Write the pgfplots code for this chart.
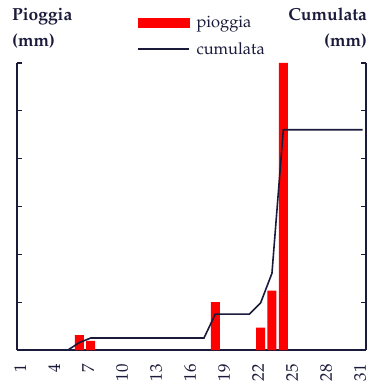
\documentclass[border=0pt]{standalone}
\usepackage[T1]{fontenc}
\usepackage{mathpazo}
\usepackage{pgfplots}
\pgfplotsset{compat=1.18}
\definecolor{navy}{RGB}{26,26,58}

\begin{document}
\begin{tikzpicture}
\pgfplotsset{
  common/.style={
    scale only axis, width=349bp, height=287bp,
    xmin=0.5, xmax=31.3,
    axis line style={navy, line width=1.4pt, -},
    major tick length=5bp,
    tick style={navy, line width=1.2pt},
    yticklabels={},
  }
}
% rain bars, left axis
\begin{axis}[common, name=ax,
    ymin=0, ymax=60, ytick={0,10,...,60},
    axis y line*=left, axis x line*=bottom,
    xtick={1,4,...,31},
    xtick style={draw=none},
    xticklabel={\fontsize{17}{19}\selectfont\pgfmathprintnumber[assume math mode=true]{\tick}},
    xticklabel shift=9bp,
    x tick label style={xshift=-2.5bp, rotate=90, anchor=east, text=navy, inner sep=0pt},
    ybar, bar width=0.8,
]
\addplot[fill=red, draw=none] coordinates {
  (6,3.1)(7,1.9)(18,10)(22,4.7)(23,12.4)(24,60) };
\end{axis}
% cumulative, right axis
\begin{axis}[common,
    ymin=0, ymax=120, ytick={0,20,...,120},
    axis y line*=right, axis x line=none,
    legend style={at={(0.343,1.17)}, anchor=north west, draw=none, fill=none,
      inner sep=0pt, row sep=9bp, font=\fontsize{16.5}{18}\selectfont, text=navy},
    legend cell align=left,
]
\addlegendimage{legend image code/.code={\fill[red] (0bp,-4.5bp) rectangle (51bp,4.5bp); \path (56bp,0bp);}}
\addlegendentry{pioggia}
\addplot[navy, line width=1.6pt,
    legend image code/.code={\draw[navy, line width=1.6pt] (0bp,0bp) -- (51bp,0bp); \path (56bp,0bp);}] coordinates {
  (1,0)(2,0)(3,0)(4,0)(5,0)(6,3.1)(7,5.0)(8,5.0)(9,5.0)(10,5.0)(11,5.0)(12,5.0)
  (13,5.0)(14,5.0)(15,5.0)(16,5.0)(17,5.0)(18,15.0)(19,15.0)(20,15.0)(21,15.0)
  (22,19.7)(23,32.1)(24,92.1)(25,92.1)(26,92.1)(27,92.1)(28,92.1)(29,92.1)
  (30,92.1)(31,92.1) };
\addlegendentry{cumulata}
\end{axis}

\begin{scope}[every node/.style={text=navy, inner sep=0pt, font=\fontsize{17.5}{20}\selectfont\bfseries}]
\node[anchor=base west] at ([xshift=-5bp,yshift=42bp]ax.north west) {Pioggia};
\node[anchor=base west] at ([xshift=-5bp,yshift=16bp]ax.north west) {(mm)};
\node[anchor=base east] at ([xshift=1bp,yshift=42bp]ax.north east) {Cumulata};
\node[anchor=base east] at ([xshift=1bp,yshift=16bp]ax.north east) {(mm)};
\end{scope}

\pgfresetboundingbox
\path[use as bounding box] ([xshift=-17bp,yshift=63bp]ax.north west) rectangle ([xshift=3bp,yshift=-33bp]ax.south east);
\end{tikzpicture}
\end{document}
